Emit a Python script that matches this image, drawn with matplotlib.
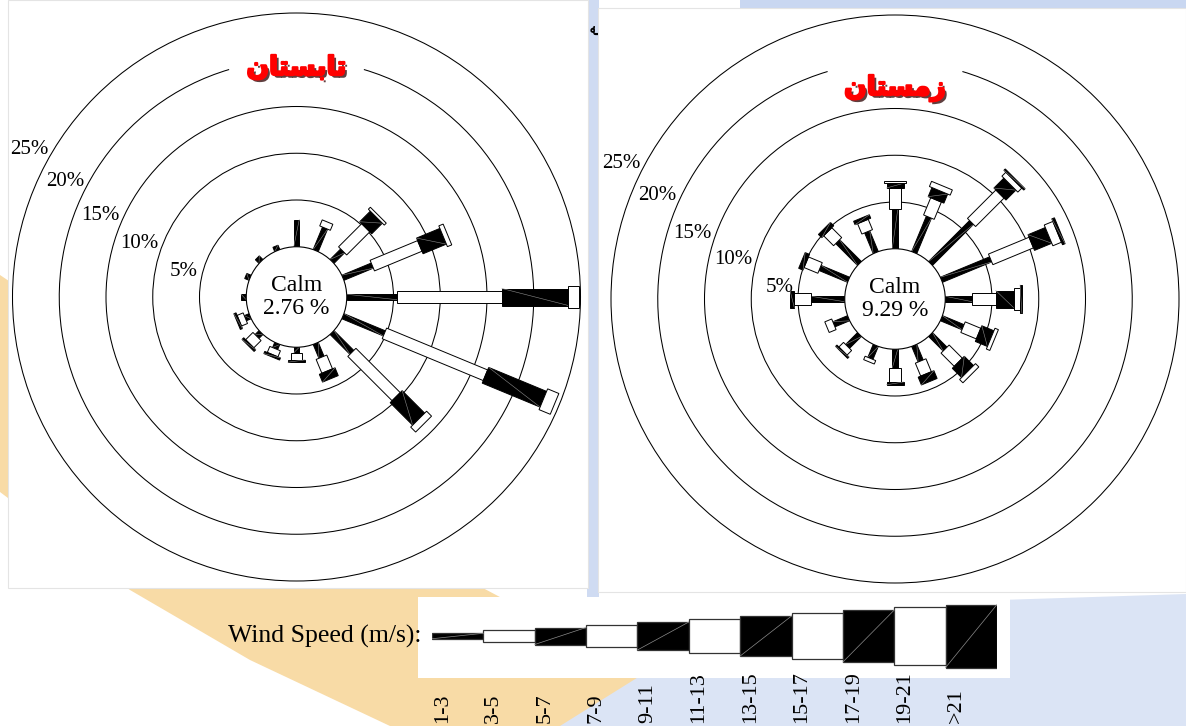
import numpy as np
import matplotlib.pyplot as plt
from matplotlib.patches import Circle, Arc, Polygon, Rectangle
from matplotlib import transforms
import matplotlib.patheffects as pe

W, H, DPI = 1186, 726, 100

# ---------------------------------------------------------------------------
# Data: frequency (%) per direction, one list per direction, one entry per
# speed class (1-3, 3-5, 5-7, 7-9, 9-11 m/s ...)
# ---------------------------------------------------------------------------
directions = ['N', 'NNE', 'NE', 'ENE', 'E', 'ESE', 'SE', 'SSE',
              'S', 'SSW', 'SW', 'WSW', 'W', 'WNW', 'NW', 'NNW']
speed_classes = ['1-3', '3-5', '5-7', '7-9', '9-11', '11-13',
                 '13-15', '15-17', '17-19', '19-21', '>21']

summer_title = 'تابستان'
summer_calm = 2.76
summer = [
    [2.9],
    [2.6, 0.7],
    [1.6, 3.5, 1.6, 0.3],
    [3.4, 5.5, 2.7, 0.5],
    [5.4, 11.2, 7.1, 1.1],
    [4.8, 11.7, 6.7, 1.3],
    [3.0, 6.7, 3.4, 0.75],
    [1.6, 1.6, 0.9],
    [0.6, 0.75, 0.25],
    [0.6, 0.7, 0.25],
    [0.6, 1.1, 0.25],
    [0.55, 0.7, 0.25],
    [0.55],
    [0.5],
    [0.55],
    [0.5],
]

winter_title = 'زمستان'
winter_calm = 9.29
winter = [
    [4.2, 2.3, 0.5, 0.25],
    [4.1, 2.0, 1.05, 0.6],
    [6.2, 4.3, 1.5, 0.6, 0.2],
    [5.7, 4.7, 2.0, 1.0, 0.3],
    [2.9, 2.5, 1.9, 0.7, 0.2],
    [2.5, 1.8, 1.4, 0.4],
    [2.2, 2.0, 1.4, 0.5],
    [1.8, 1.5, 0.9],
    [2.0, 1.5, 0.3],
    [1.5, 0.4],
    [1.8, 0.7, 0.2],
    [1.7, 0.8],
    [3.6, 1.8, 0.45],
    [3.3, 1.6, 0.5],
    [3.3, 1.5, 0.5],
    [2.4, 1.2, 0.4],
]

rings = [5, 10, 15, 20, 25]

# ---------------------------------------------------------------------------
# Layout / style
# ---------------------------------------------------------------------------
PX = 9.35                  # pixels per percent
CALM_R = 50.25 / PX        # calm circle radius, in percent units
CLASS_W_PX = [5.5, 11.5, 17, 22.5, 28, 34, 40, 46, 52, 57.5, 63]
GAP = 16.5                 # half-gap (deg) in the 20% ring for the title
SERIF = 'Liberation Serif'
plt.rcParams['font.family'] = ['DejaVu Sans']


def shape_fa(text):
    """Minimal Persian shaping: map letters to presentation forms, visual order."""
    forms = {  # isolated, final, initial, medial
        'ت': ('\uFE95', '\uFE96', '\uFE97', '\uFE98'),
        'ب': ('\uFE8F', '\uFE90', '\uFE91', '\uFE92'),
        'س': ('\uFEB1', '\uFEB2', '\uFEB3', '\uFEB4'),
        'ن': ('\uFEE5', '\uFEE6', '\uFEE7', '\uFEE8'),
        'م': ('\uFEE1', '\uFEE2', '\uFEE3', '\uFEE4'),
        'ا': ('\uFE8D', '\uFE8E', None, None),
        'ز': ('\uFEAF', '\uFEB0', None, None),
    }
    out = []
    for i, ch in enumerate(text):
        prev_joins = i > 0 and forms[text[i - 1]][2] is not None
        next_exists = i < len(text) - 1
        dual = forms[ch][2] is not None
        if prev_joins and next_exists and dual:
            out.append(forms[ch][3])
        elif prev_joins:
            out.append(forms[ch][1])
        elif next_exists and dual:
            out.append(forms[ch][2])
        else:
            out.append(forms[ch][0])
    return ''.join(reversed(out))


def px_axes(fig, x0, y0, w, h, **kw):
    return fig.add_axes([x0 / W, 1 - (y0 + h) / H, w / W, h / H], **kw)


def draw_rose(fig, cx, cy, freqs, calm, title, title_dy, label_dy):
    half = 296
    ax = px_axes(fig, cx - half, cy - half, 2 * half, 2 * half)
    lim = half / PX
    ax.set_xlim(-lim, lim)
    ax.set_ylim(-lim, lim)
    ax.axis('off')
    ax.patch.set_alpha(0)

    for ring, ldy in zip(rings, label_dy):
        r = CALM_R + ring
        if ring == 20:
            ax.add_patch(Arc((0, 0), 2 * r, 2 * r, theta1=90 + GAP,
                             theta2=450 - GAP, lw=0.75, color='black'))
        else:
            ax.add_patch(Circle((0, 0), r, fill=False, lw=0.75, ec='black'))
        yy = ldy / PX
        xx = -np.sqrt(r ** 2 - yy ** 2) - 5 / PX
        ax.text(xx, yy, f'{ring}%', ha='right', va='center',
                fontsize=15, family=SERIF)

    for i, segs in enumerate(freqs):
        th = np.deg2rad(i * 22.5)
        u = np.array([np.sin(th), np.cos(th)])
        n = np.array([-np.cos(th), np.sin(th)])
        r0 = CALM_R
        for k, p in enumerate(segs):
            r1 = r0 + p
            hw = CLASS_W_PX[k] / PX / 2
            dark = k % 2 == 0
            pts = [r0 * u - hw * n, r1 * u - hw * n, r1 * u + hw * n, r0 * u + hw * n]
            ax.add_patch(Polygon(pts, closed=True, fc='black' if dark else 'white',
                                 ec='black', lw=0.7, zorder=3 + k))
            if dark:
                a, b = r0 * u + hw * n, r1 * u - hw * n
                ax.plot([a[0], b[0]], [a[1], b[1]], color='0.55', lw=0.4,
                        zorder=3 + k)
            r0 = r1

    ax.add_patch(Circle((0, 0), CALM_R, fc='white', ec='black', lw=0.8, zorder=20))
    ax.text(0, 0, f'Calm\n{calm:.2f} %', ha='center', va='center',
            fontsize=17, family=SERIF, linespacing=1.1, zorder=21)

    ax.text(0, title_dy / PX, shape_fa(title), ha='center', va='center',
            fontsize=19, fontweight='bold', color='#ff0000', zorder=22,
            path_effects=[pe.withSimplePatchShadow(offset=(2, -2),
                                                   shadow_rgbFace='#2a0000',
                                                   alpha=0.75),
                          pe.Stroke(linewidth=1.6, foreground='#ff0000'),
                          pe.Normal()])
    return ax


fig = plt.figure(figsize=(W / DPI, H / DPI), dpi=DPI)
fig.patch.set_facecolor('white')

# background: watermark swooshes and white panels
bg = fig.add_axes([0, 0, 1, 1], zorder=-5)
bg.set_xlim(0, W)
bg.set_ylim(H, 0)
bg.axis('off')
bg.add_patch(Polygon([(0, 275), (200, 410), (430, 560), (600, 650), (700, 726),
                      (390, 726), (250, 660), (130, 590), (0, 492)],
                     fc='#f8dba6', ec='none'))
bg.add_patch(Polygon([(560, 726), (640, 676), (780, 636), (1000, 600),
                      (1186, 594), (1186, 726)], fc='#dbe4f5', ec='none'))
bg.add_patch(Rectangle((740, 0), 446, 10, fc='#c9d7f1', ec='none'))
bg.add_patch(Rectangle((587, 0), 12, 600, fc='#cfdbf2', ec='none'))
bg.add_patch(Rectangle((8, 0), 580, 588, fc='white', ec='#e4e4e4', lw=0.8))
bg.add_patch(Rectangle((598, 8), 588, 584, fc='white', ec='#e4e4e4', lw=0.8))
bg.add_patch(Rectangle((418, 597), 592, 81, fc='white', ec='none'))
bg.text(592, 30, 'ﻢ', rotation=90, ha='center', va='center', fontsize=9,
        fontweight='bold', color='black')

draw_rose(fig, 296.5, 297, summer, summer_calm, summer_title, 229,
          [26, 54, 81, 116, 147])
draw_rose(fig, 895, 299, winter, winter_calm, winter_title, 211,
          [11, 40, 66, 104, 135])

# ---------------------------------------------------------------------------
# Speed class legend
# ---------------------------------------------------------------------------
lg = px_axes(fig, 432, 601, 565, 70)
lg.set_xlim(0, len(speed_classes))
lg.set_ylim(-35, 35)
lg.axis('off')
lg.patch.set_alpha(0)
for k, name in enumerate(speed_classes):
    h = CLASS_W_PX[k]
    dark = k % 2 == 0
    lg.add_patch(Rectangle((k, -h / 2), 1, h, fc='black' if dark else 'white',
                           ec='#333333', lw=0.9))
    if dark:
        lg.plot([k, k + 1], [-h / 2, h / 2], color='0.55', lw=0.5)

tr = transforms.blended_transform_factory(lg.transData, fig.transFigure)
for k, name in enumerate(speed_classes):
    lg.text(k + 0.2, 1 - 723 / H, name, transform=tr, rotation=90,
            ha='center', va='bottom', fontsize=16, family=SERIF)

fig.text(421 / W, 1 - 636 / H, 'Wind Speed (m/s):', ha='right', va='center',
         fontsize=18.5, family=SERIF)

fig.savefig('out.png', dpi=DPI)
